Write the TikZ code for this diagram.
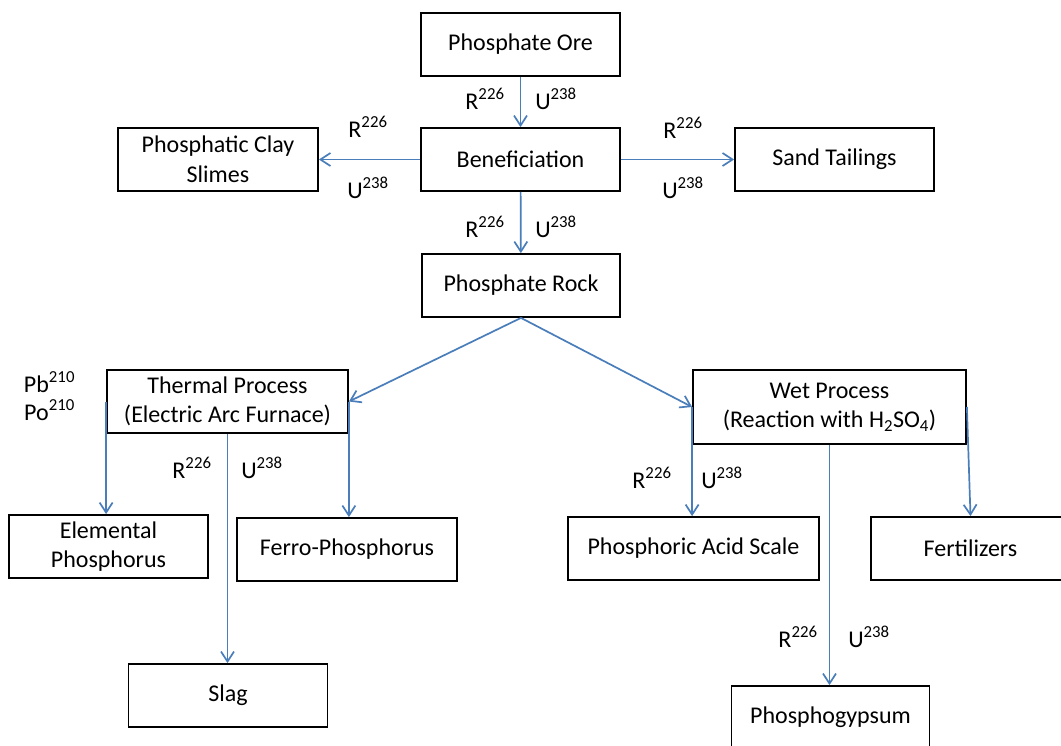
\documentclass[tikz,border=0pt]{standalone}
\usepackage{fontspec}
\setmainfont{Carlito}
\usetikzlibrary{arrows.meta}
\definecolor{flowblue}{HTML}{4A7EBB}
\begin{document}
\begin{tikzpicture}[x=1pt,y=-1pt,
  box/.style={draw=black,line width=1.8pt,fill=white,align=center,
    inner sep=0pt,minimum height=63pt,font=\fontsize{24}{29.5}\selectfont},
  flow/.style={draw=flowblue,line width=1.7pt,
    -{Straight Barb[length=10pt,width=13pt,line width=1.7pt]}},
  iso/.style={anchor=base,inner sep=0pt,font=\fontsize{24}{29}\selectfont}]
\useasboundingbox[fill=white] (0,0) rectangle (1061,745);

% process boxes
\node[box,minimum width=199pt] (ore)    at (520.5,44.5)  {Phosphate Ore};
\node[box,minimum width=199pt] (ben)    at (520.5,159.5) {Beneficiation};
\node[box,minimum width=200pt] (slimes) at (218,159.5)   {Phosphatic Clay\\Slimes};
\node[box,minimum width=199pt] (sand)   at (834.5,159.5) {Sand Tailings};
\node[box,minimum width=198pt] (rock)   at (521,285.5)   {Phosphate Rock};
\node[box,minimum width=241pt] (therm)  at (227.5,401.5) {Thermal Process\\(Electric Arc Furnace)};
\node[box,minimum width=273pt,minimum height=74pt] (wet) at (829.5,407)
  {Wet Process\\(Reaction with H\textsubscript{2}SO\textsubscript{4})};
\node[box,minimum width=199pt] (elem)   at (108.5,546.5) {Elemental\\Phosphorus};
\node[box,minimum width=220pt] (ferro)  at (347,549.5)   {Ferro-Phosphorus};
\node[box,minimum width=251pt] (acid)   at (693.5,548.5) {Phosphoric Acid Scale};
\node[box,minimum width=199pt] (fert)   at (970.5,548.5) {Fertilizers};
\node[box,minimum width=199pt] (slag)   at (228,695.5)   {Slag};
\node[box,minimum width=198pt] (gyp)    at (830.5,717.5) {Phosphogypsum};

% material flows
\draw[flow] (ore) -- (ben);
\draw[flow] (ben) -- (slimes);
\draw[flow] (ben) -- (sand);
\draw[flow] (ben) -- (rock);
\draw[flow] (rock.south) -- (therm.east);
\draw[flow] (rock.south) -- (wet.west);
\draw[flow] (therm.west) -- (therm.west |- elem.north);
\draw[flow] (therm.east) -- (therm.east |- ferro.north);
\draw[flow] (therm.south) -- (therm.south |- slag.north);
\draw[flow] (wet.west) -- (wet.west |- acid.north);
\draw[flow] (wet.east) -- (fert.north);
\draw[flow] (wet.south) -- (wet.south |- gyp.north);

% radionuclide labels
\node[iso] (r1) at (485,109) {R\textsuperscript{226}};
\node[iso] (u1) at (556,109) {U\textsuperscript{238}};
\node[iso] (r2) at (368,137) {R\textsuperscript{226}};
\node[iso] (u2) at (368,198) {U\textsuperscript{238}};
\node[iso] (r3) at (683,138) {R\textsuperscript{226}};
\node[iso] (u3) at (683,198) {U\textsuperscript{238}};
\node[iso] (r4) at (485,237) {R\textsuperscript{226}};
\node[iso] (u4) at (556,237) {U\textsuperscript{238}};
\node[iso] (r5) at (192,478) {R\textsuperscript{226}};
\node[iso] (u5) at (262,478) {U\textsuperscript{238}};
\node[iso] (r6) at (652,488) {R\textsuperscript{226}};
\node[iso] (u6) at (722,488) {U\textsuperscript{238}};
\node[iso] (r7) at (798,647) {R\textsuperscript{226}};
\node[iso] (u7) at (869,647) {U\textsuperscript{238}};
\node[iso] (pb) at (49.5,392) {Pb\textsuperscript{210}};
\node[iso] (po) at (49.5,420) {Po\textsuperscript{210}};
\end{tikzpicture}
\end{document}
